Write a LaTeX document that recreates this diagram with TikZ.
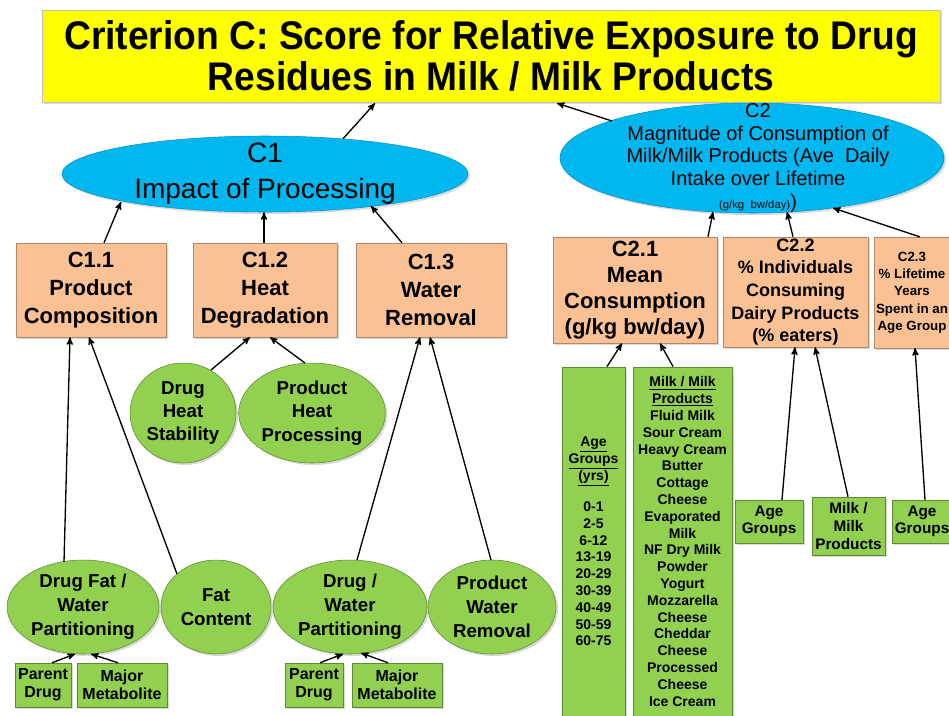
\documentclass[tikz,border=0pt]{standalone}
\usepackage{fontspec}
\setmainfont{Liberation Sans}
\newfontfamily\titlefont{Liberation Sans}[FakeStretch=0.93]
\usetikzlibrary{calc,arrows,positioning,shapes,shadows}

\definecolor{crityellow}{RGB}{255,255,0}
\definecolor{critblue}{RGB}{0,183,240}
\definecolor{subpeach}{RGB}{250,194,148}
\definecolor{leafgreen}{RGB}{146,208,80}

\newcommand{\fs}[2]{\fontsize{#1}{#2}\selectfont}

\begin{document}
\begin{tikzpicture}[x=0.75pt,y=-0.75pt,->,>=stealth',line width=1pt,
  every node/.style={inner sep=0pt,align=center,text=black},
  softshadow/.style={drop shadow={shadow xshift=1.5pt,shadow yshift=-1.5pt,opacity=0.3}},
  topbox/.style={rectangle,draw=black!25,fill=crityellow,thin,softshadow},
  critell/.style={ellipse,draw=critblue!80!black,fill=critblue,thin,softshadow},
  subbox/.style={rectangle,draw=subpeach!70!black,fill=subpeach,thin,softshadow},
  leafell/.style={ellipse,draw=leafgreen!65!black,fill=leafgreen,thin,softshadow},
  leafbox/.style={rectangle,draw=leafgreen!65!black,fill=leafgreen,thin,softshadow}]

  \clip (0,0) rectangle (949,715);

  % goal
  \node[topbox,minimum width=673.5pt,minimum height=69pt,
    font=\titlefont\bfseries\fs{30}{31}] (crit) at (491,56)
    {Criterion C: Score for Relative Exposure to Drug\\Residues in Milk / Milk Products};

  % criteria
  \node[critell,minimum width=304.5pt,minimum height=57pt,
    label={[font=\fs{21}{27}]center:{C1\\Impact of Processing}}] (c1) at (265,174) {};
  \node[critell,minimum width=288pt,minimum height=82.5pt,
    label={[font=\fs{15}{17},xshift=4.5pt]center:{C2\\Magnitude of Consumption of\\Milk/Milk Products (Ave\ \ Daily\\Intake over Lifetime\\{\fs{8.5}{9}(g/kg\ \ bw/day)})}}] (c2) at (752,158) {};

  % sub-criteria
  \node[subbox,minimum width=112.5pt,minimum height=70.5pt,font=\bfseries\fs{16.5}{21}] (c11) at (91,290) {C1.1\\Product\\Composition};
  \node[subbox,minimum width=108pt,minimum height=70.5pt,font=\bfseries\fs{16.5}{21}] (c12) at (265,290) {C1.2\\Heat\\Degradation};
  \node[subbox,minimum width=112.5pt,minimum height=70.5pt,font=\bfseries\fs{16.5}{21}] (c13) at (431,290) {C1.3\\Water\\Removal};
  \node[subbox,minimum width=123pt,minimum height=79.5pt,font=\bfseries\fs{16.5}{19.5}] (c21) at (635,290) {C2.1\\Mean\\Consumption\\(g/kg bw/day)};
  \node[subbox,minimum width=108.75pt,minimum height=82.5pt,font=\bfseries\fs{13.5}{17}] (c22) at (795.5,292) {C2.2\\\% Individuals\\Consuming\\Dairy Products\\(\% eaters)};
  \node[subbox,minimum width=57pt,minimum height=83pt,font=\bfseries\fs{10}{13}] (c23) at (912,292.5) {C2.3\\\% Lifetime\\Years\\Spent in an\\Age Group};

  % factors
  \node[leafell,minimum width=79.5pt,minimum height=75pt,font=\bfseries\fs{14}{17.6}] (dhs) at (183,413) {Drug\\Heat\\Stability};
  \node[leafell,minimum width=110pt,minimum height=75pt,font=\bfseries\fs{14}{17.6}] (php) at (312,413) {Product\\Heat\\Processing};
  \node[leafell,minimum width=114pt,minimum height=70.5pt,font=\bfseries\fs{14}{18}] (dfw) at (83,607) {Drug Fat /\\Water\\Partitioning};
  \node[leafell,minimum width=82.5pt,minimum height=70.5pt,font=\bfseries\fs{14}{18}] (fat) at (216,607) {Fat\\Content};
  \node[leafell,minimum width=115.5pt,minimum height=70.5pt,font=\bfseries\fs{14}{18}] (dw) at (350,607) {Drug /\\Water\\Partitioning};
  \node[leafell,minimum width=96pt,minimum height=70.5pt,font=\bfseries\fs{14}{18}] (pwr) at (492,607) {Product\\Water\\Removal};

  \node[leafbox,minimum width=42pt,minimum height=33pt,font=\bfseries\fs{12}{13.5}] (pd1) at (43,685) {Parent\\Drug};
  \node[leafbox,minimum width=67.5pt,minimum height=33pt,font=\bfseries\fs{12}{13.5}] (mm1) at (122,685) {Major\\Metabolite};
  \node[leafbox,minimum width=43.5pt,minimum height=33pt,font=\bfseries\fs{12}{13.5}] (pd2) at (314,685) {Parent\\Drug};
  \node[leafbox,minimum width=67.5pt,minimum height=33pt,font=\bfseries\fs{12}{13.5}] (mm2) at (397,685) {Major\\Metabolite};

  \node[leafbox,minimum width=47.25pt,minimum height=262pt,font=\bfseries\fs{10.5}{12.6}] (agecol) at (593.5,541.5)
    {\underline{Age}\\\underline{Groups}\\\underline{(yrs)}\\[11pt]0-1\\2-5\\6-12\\13-19\\20-29\\30-39\\40-49\\50-59\\60-75};
  \node[leafbox,minimum width=74.25pt,minimum height=262pt,font=\bfseries\fs{10.5}{12.6}] (milkcol) at (682.5,541.5)
    {\underline{Milk / Milk}\\\underline{Products}\\Fluid Milk\\Sour Cream\\Heavy Cream\\Butter\\Cottage\\Cheese\\Evaporated\\Milk\\NF Dry Milk\\Powder\\Yogurt\\Mozzarella\\Cheese\\Cheddar\\Cheese\\Processed\\Cheese\\Ice Cream};

  \node[leafbox,minimum width=51pt,minimum height=32pt,font=\bfseries\fs{11.5}{13}] (ag1) at (769,521.5) {Age\\Groups};
  \node[leafbox,minimum width=55pt,minimum height=43.5pt,font=\bfseries\fs{11.5}{13.5}] (mp) at (848.5,526) {Milk /\\Milk\\Products};
  \node[leafbox,minimum width=45pt,minimum height=32pt,font=\bfseries\fs{11.5}{13}] (ag2) at (922,521.5) {Age\\Groups};

  % connectors
  \draw ($(c1.north)+(78,3)$) -- ($(crit.south)+(-116,1)$);
  \draw ($(c2.center)+(-140,-37)$) -- ($(crit.south)+(66,1)$);

  \draw ($(c11.north)+(13,0)$) -- ($(c1.center)+(-144,28)$);
  \draw ($(c12.north)+(-1,0)$) -- ($(c1.south)+(-1,0)$);
  \draw ($(c13.north)+(-29,0)$) -- ($(c1.center)+(106,32)$);

  \draw ($(dfw.center)+(-19,-45)$) -- ($(c11.south)+(-21,0)$);
  \draw ($(fat.center)+(-39,-33)$) -- ($(c11.south)+(-2,0)$);
  \draw ($(dhs.center)+(28,-43)$) -- ($(c12.south)+(-15,0)$);
  \draw ($(php.center)+(-7,-50)$) -- ($(c12.south)+(5,0)$);
  \draw ($(dw.center)+(7,-47)$) -- ($(c13.south)+(-11,0)$);
  \draw ($(pwr.center)+(-1,-47)$) -- ($(c13.south)+(-1,0)$);

  \draw ($(pd1.north)+(9,0)$) -- ($(dfw.center)+(-8,47)$);
  \draw ($(mm1.north)+(-4,0)$) -- ($(dfw.center)+(8,47)$);
  \draw ($(pd2.north)+(6,0)$) -- ($(dw.center)+(-7,47)$);
  \draw ($(mm2.north)+(-9,0)$) -- ($(dw.center)+(11,46)$);

  \draw ($(agecol.north)+(13.5,0)$) -- ($(c21.south)+(-13,0)$);
  \draw ($(milkcol.north)+(-9.5,0)$) -- ($(c21.south)+(25,0)$);

  \draw ($(c21.north)+(73,0)$) -- ($(c2.center)+(-39,54)$);
  \draw ($(c22.north)+(-2.5,0)$) -- ($(c2.center)+(35,54)$);
  \draw ($(c23.north)+(8,0)$) -- ($(c2.center)+(81,50)$);

  \draw ($(ag1.north)+(13,0)$) -- ($(c22.south)+(-0.5,0)$);
  \draw ($(mp.north)+(-0.5,0)$) -- ($(c22.south)+(19.5,0)$);
  \draw ($(ag2.north)+(3,0)$) -- ($(c23.south)+(3,0)$);

\end{tikzpicture}
\end{document}
